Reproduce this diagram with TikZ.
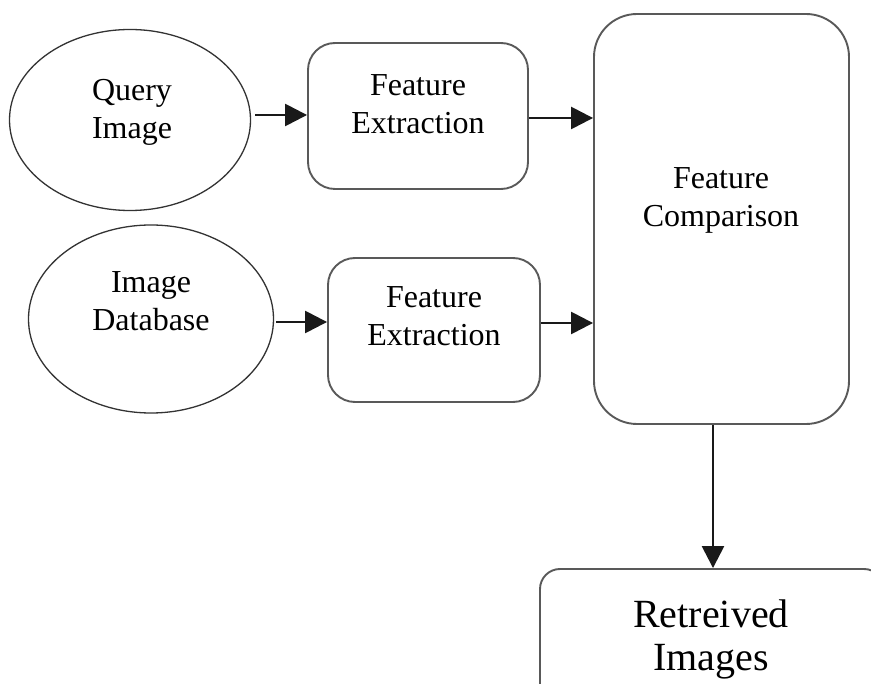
\documentclass[tikz,border=0pt]{standalone}
\usepackage{fontspec}
\setmainfont{Liberation Serif}
\usetikzlibrary{shapes.geometric,arrows.meta}
\begin{document}
\begin{tikzpicture}[x=1pt,y=-1pt,
			ell/.style={ellipse,draw=black!80,line width=1.3pt,inner sep=0pt},
			box/.style={rectangle,draw=black!65,line width=1.9pt,inner sep=0pt},
			txt/.style={align=center,inner sep=0pt,font=\fontsize{32}{38}\selectfont},
			arr/.style={-{Triangle[length=22pt,width=22pt]},line width=2.6pt,black!90},]
\useasboundingbox (0,0) rectangle (871,684);
\clip (0,0) rectangle (871,684);
\node[ell,minimum width=241pt,minimum height=181pt] (query) at (130,120) {};
\node[ell,minimum width=245pt,minimum height=188pt] (db) at (151,319) {};
\node[box,rounded corners=27pt,minimum width=220pt,minimum height=146pt] (fe1) at (418,116) {};
\node[box,rounded corners=27pt,minimum width=212pt,minimum height=144pt] (fe2) at (434,330) {};
\node[box,rounded corners=43pt,minimum width=255pt,minimum height=410pt] (cmp) at (721.5,219) {};
\node[box,rounded corners=20pt,minimum width=344pt,minimum height=152pt] (ret) at (712,645) {};
\node[txt] (qtxt) at (132,112) {Query\\Image};
\node[txt] (dbtxt) at (151,301.5) {Image\\Database};
\node[txt] (fe1txt) at (418,104) {Feature\\Extraction};
\node[txt] (fe2txt) at (434,316) {Feature\\Extraction};
\node[txt] (cmptxt) at (721,200.5) {Feature\\Comparison};
\node[txt,font=\fontsize{40}{43}\selectfont] (rettxt) at (711,639.5) {Retreived\\Images};
\draw[arr] ([xshift=4pt,yshift=5pt]query.east) -- ([yshift=5pt]query.east -| fe1.west);
\draw[arr] ([yshift=-2pt]fe1.east) -- ([yshift=-2pt]fe1.east -| cmp.west);
\draw[arr] ([xshift=2pt,yshift=-3pt]db.east) -- ([yshift=-3pt]db.east -| fe2.west);
\draw[arr] ([yshift=7pt]fe2.east) -- ([yshift=7pt]fe2.east -| cmp.west);
\draw[arr] ([xshift=-8.5pt]cmp.south) -- ([xshift=-8.5pt]cmp.south |- ret.north);
\end{tikzpicture}
\end{document}
